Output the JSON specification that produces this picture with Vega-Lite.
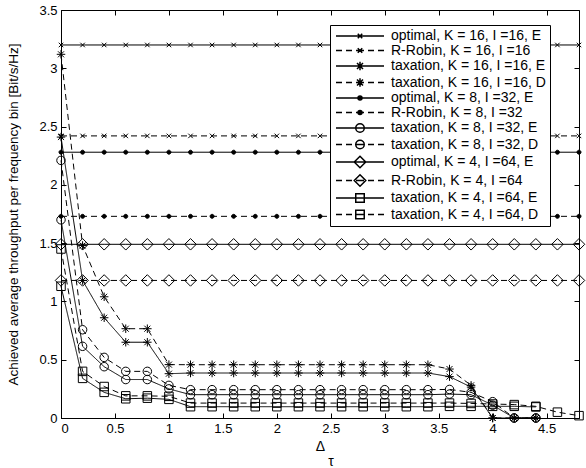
{
  "$schema": "https://vega.github.io/schema/vega-lite/v6.json",
  "width": 518,
  "height": 408,
  "autosize": {"type": "none"},
  "padding": {"left": 61, "top": 10, "right": 7, "bottom": 50},
  "background": "white",
  "config": {
    "font": "Liberation Sans",
    "view": {"stroke": "black", "strokeWidth": 1},
    "axis": {
      "grid": false,
      "domainColor": "black",
      "tickColor": "black",
      "labelColor": "black",
      "titleColor": "black",
      "labelFontSize": 13,
      "labelFont": "Liberation Sans",
      "titleFont": "Liberation Sans",
      "titleFontWeight": "normal",
      "tickSize": -5,
      "tickWidth": 1
    },
    "legend": {
      "labelFont": "Liberation Sans",
      "labelFontSize": 14,
      "labelColor": "black"
    }
  },
  "data": {
    "values": [
      {"x": 0, "optimal, K = 16, I =16, E": 3.2, "R-Robin, K = 16, I =16": 2.42, "taxation, K = 16, I =16, E": 2.41, "taxation, K = 16, I =16, D": 3.12, "optimal, K = 8, I =32, E": 2.28, "R-Robin, K = 8, I =32": 1.73, "taxation, K = 8, I =32, E": 1.7, "taxation, K = 8, I =32, D": 2.21, "optimal, K = 4, I =64, E": 1.49, "R-Robin, K = 4, I =64": 1.18, "taxation, K = 4, I =64, E": 1.13, "taxation, K = 4, I =64, D": 1.45},
      {"x": 0.2, "optimal, K = 16, I =16, E": 3.2, "R-Robin, K = 16, I =16": 2.42, "taxation, K = 16, I =16, E": 1.18, "taxation, K = 16, I =16, D": 1.48, "optimal, K = 8, I =32, E": 2.28, "R-Robin, K = 8, I =32": 1.73, "taxation, K = 8, I =32, E": 0.615, "taxation, K = 8, I =32, D": 0.757, "optimal, K = 4, I =64, E": 1.49, "R-Robin, K = 4, I =64": 1.18, "taxation, K = 4, I =64, E": 0.34, "taxation, K = 4, I =64, D": 0.4},
      {"x": 0.4, "optimal, K = 16, I =16, E": 3.2, "R-Robin, K = 16, I =16": 2.42, "taxation, K = 16, I =16, E": 0.86, "taxation, K = 16, I =16, D": 1.04, "optimal, K = 8, I =32, E": 2.28, "R-Robin, K = 8, I =32": 1.73, "taxation, K = 8, I =32, E": 0.44, "taxation, K = 8, I =32, D": 0.52, "optimal, K = 4, I =64, E": 1.49, "R-Robin, K = 4, I =64": 1.18, "taxation, K = 4, I =64, E": 0.22, "taxation, K = 4, I =64, D": 0.27},
      {"x": 0.6, "optimal, K = 16, I =16, E": 3.2, "R-Robin, K = 16, I =16": 2.42, "taxation, K = 16, I =16, E": 0.65, "taxation, K = 16, I =16, D": 0.766, "optimal, K = 8, I =32, E": 2.28, "R-Robin, K = 8, I =32": 1.73, "taxation, K = 8, I =32, E": 0.33, "taxation, K = 8, I =32, D": 0.4, "optimal, K = 4, I =64, E": 1.49, "R-Robin, K = 4, I =64": 1.18, "taxation, K = 4, I =64, E": 0.165, "taxation, K = 4, I =64, D": 0.19},
      {"x": 0.8, "optimal, K = 16, I =16, E": 3.2, "R-Robin, K = 16, I =16": 2.42, "taxation, K = 16, I =16, E": 0.65, "taxation, K = 16, I =16, D": 0.766, "optimal, K = 8, I =32, E": 2.28, "R-Robin, K = 8, I =32": 1.73, "taxation, K = 8, I =32, E": 0.33, "taxation, K = 8, I =32, D": 0.4, "optimal, K = 4, I =64, E": 1.49, "R-Robin, K = 4, I =64": 1.18, "taxation, K = 4, I =64, E": 0.17, "taxation, K = 4, I =64, D": 0.19},
      {"x": 1.0, "optimal, K = 16, I =16, E": 3.2, "R-Robin, K = 16, I =16": 2.42, "taxation, K = 16, I =16, E": 0.38, "taxation, K = 16, I =16, D": 0.458, "optimal, K = 8, I =32, E": 2.28, "R-Robin, K = 8, I =32": 1.73, "taxation, K = 8, I =32, E": 0.25, "taxation, K = 8, I =32, D": 0.28, "optimal, K = 4, I =64, E": 1.49, "R-Robin, K = 4, I =64": 1.18, "taxation, K = 4, I =64, E": 0.16, "taxation, K = 4, I =64, D": 0.186},
      {"x": 1.2, "optimal, K = 16, I =16, E": 3.2, "R-Robin, K = 16, I =16": 2.42, "taxation, K = 16, I =16, E": 0.386, "taxation, K = 16, I =16, D": 0.457, "optimal, K = 8, I =32, E": 2.28, "R-Robin, K = 8, I =32": 1.73, "taxation, K = 8, I =32, E": 0.2, "taxation, K = 8, I =32, D": 0.243, "optimal, K = 4, I =64, E": 1.49, "R-Robin, K = 4, I =64": 1.18, "taxation, K = 4, I =64, E": 0.097, "taxation, K = 4, I =64, D": 0.128},
      {"x": 1.4, "optimal, K = 16, I =16, E": 3.2, "R-Robin, K = 16, I =16": 2.42, "taxation, K = 16, I =16, E": 0.386, "taxation, K = 16, I =16, D": 0.457, "optimal, K = 8, I =32, E": 2.28, "R-Robin, K = 8, I =32": 1.73, "taxation, K = 8, I =32, E": 0.2, "taxation, K = 8, I =32, D": 0.243, "optimal, K = 4, I =64, E": 1.49, "R-Robin, K = 4, I =64": 1.18, "taxation, K = 4, I =64, E": 0.097, "taxation, K = 4, I =64, D": 0.128},
      {"x": 1.6, "optimal, K = 16, I =16, E": 3.2, "R-Robin, K = 16, I =16": 2.42, "taxation, K = 16, I =16, E": 0.386, "taxation, K = 16, I =16, D": 0.457, "optimal, K = 8, I =32, E": 2.28, "R-Robin, K = 8, I =32": 1.73, "taxation, K = 8, I =32, E": 0.2, "taxation, K = 8, I =32, D": 0.243, "optimal, K = 4, I =64, E": 1.49, "R-Robin, K = 4, I =64": 1.18, "taxation, K = 4, I =64, E": 0.097, "taxation, K = 4, I =64, D": 0.128},
      {"x": 1.8, "optimal, K = 16, I =16, E": 3.2, "R-Robin, K = 16, I =16": 2.42, "taxation, K = 16, I =16, E": 0.386, "taxation, K = 16, I =16, D": 0.457, "optimal, K = 8, I =32, E": 2.28, "R-Robin, K = 8, I =32": 1.73, "taxation, K = 8, I =32, E": 0.2, "taxation, K = 8, I =32, D": 0.243, "optimal, K = 4, I =64, E": 1.49, "R-Robin, K = 4, I =64": 1.18, "taxation, K = 4, I =64, E": 0.097, "taxation, K = 4, I =64, D": 0.128},
      {"x": 2.0, "optimal, K = 16, I =16, E": 3.2, "R-Robin, K = 16, I =16": 2.42, "taxation, K = 16, I =16, E": 0.386, "taxation, K = 16, I =16, D": 0.457, "optimal, K = 8, I =32, E": 2.28, "R-Robin, K = 8, I =32": 1.73, "taxation, K = 8, I =32, E": 0.2, "taxation, K = 8, I =32, D": 0.243, "optimal, K = 4, I =64, E": 1.49, "R-Robin, K = 4, I =64": 1.18, "taxation, K = 4, I =64, E": 0.097, "taxation, K = 4, I =64, D": 0.128},
      {"x": 2.2, "optimal, K = 16, I =16, E": 3.2, "R-Robin, K = 16, I =16": 2.42, "taxation, K = 16, I =16, E": 0.386, "taxation, K = 16, I =16, D": 0.457, "optimal, K = 8, I =32, E": 2.28, "R-Robin, K = 8, I =32": 1.73, "taxation, K = 8, I =32, E": 0.2, "taxation, K = 8, I =32, D": 0.243, "optimal, K = 4, I =64, E": 1.49, "R-Robin, K = 4, I =64": 1.18, "taxation, K = 4, I =64, E": 0.097, "taxation, K = 4, I =64, D": 0.128},
      {"x": 2.4, "optimal, K = 16, I =16, E": 3.2, "R-Robin, K = 16, I =16": 2.42, "taxation, K = 16, I =16, E": 0.386, "taxation, K = 16, I =16, D": 0.457, "optimal, K = 8, I =32, E": 2.28, "R-Robin, K = 8, I =32": 1.73, "taxation, K = 8, I =32, E": 0.2, "taxation, K = 8, I =32, D": 0.243, "optimal, K = 4, I =64, E": 1.49, "R-Robin, K = 4, I =64": 1.18, "taxation, K = 4, I =64, E": 0.097, "taxation, K = 4, I =64, D": 0.128},
      {"x": 2.6, "optimal, K = 16, I =16, E": 3.2, "R-Robin, K = 16, I =16": 2.42, "taxation, K = 16, I =16, E": 0.386, "taxation, K = 16, I =16, D": 0.457, "optimal, K = 8, I =32, E": 2.28, "R-Robin, K = 8, I =32": 1.73, "taxation, K = 8, I =32, E": 0.2, "taxation, K = 8, I =32, D": 0.243, "optimal, K = 4, I =64, E": 1.49, "R-Robin, K = 4, I =64": 1.18, "taxation, K = 4, I =64, E": 0.097, "taxation, K = 4, I =64, D": 0.128},
      {"x": 2.8, "optimal, K = 16, I =16, E": 3.2, "R-Robin, K = 16, I =16": 2.42, "taxation, K = 16, I =16, E": 0.386, "taxation, K = 16, I =16, D": 0.457, "optimal, K = 8, I =32, E": 2.28, "R-Robin, K = 8, I =32": 1.73, "taxation, K = 8, I =32, E": 0.2, "taxation, K = 8, I =32, D": 0.243, "optimal, K = 4, I =64, E": 1.49, "R-Robin, K = 4, I =64": 1.18, "taxation, K = 4, I =64, E": 0.097, "taxation, K = 4, I =64, D": 0.128},
      {"x": 3.0, "optimal, K = 16, I =16, E": 3.2, "R-Robin, K = 16, I =16": 2.42, "taxation, K = 16, I =16, E": 0.386, "taxation, K = 16, I =16, D": 0.457, "optimal, K = 8, I =32, E": 2.28, "R-Robin, K = 8, I =32": 1.73, "taxation, K = 8, I =32, E": 0.2, "taxation, K = 8, I =32, D": 0.243, "optimal, K = 4, I =64, E": 1.49, "R-Robin, K = 4, I =64": 1.18, "taxation, K = 4, I =64, E": 0.097, "taxation, K = 4, I =64, D": 0.128},
      {"x": 3.2, "optimal, K = 16, I =16, E": 3.2, "R-Robin, K = 16, I =16": 2.42, "taxation, K = 16, I =16, E": 0.386, "taxation, K = 16, I =16, D": 0.457, "optimal, K = 8, I =32, E": 2.28, "R-Robin, K = 8, I =32": 1.73, "taxation, K = 8, I =32, E": 0.2, "taxation, K = 8, I =32, D": 0.243, "optimal, K = 4, I =64, E": 1.49, "R-Robin, K = 4, I =64": 1.18, "taxation, K = 4, I =64, E": 0.097, "taxation, K = 4, I =64, D": 0.128},
      {"x": 3.4, "optimal, K = 16, I =16, E": 3.2, "R-Robin, K = 16, I =16": 2.42, "taxation, K = 16, I =16, E": 0.386, "taxation, K = 16, I =16, D": 0.457, "optimal, K = 8, I =32, E": 2.28, "R-Robin, K = 8, I =32": 1.73, "taxation, K = 8, I =32, E": 0.2, "taxation, K = 8, I =32, D": 0.243, "optimal, K = 4, I =64, E": 1.49, "R-Robin, K = 4, I =64": 1.18, "taxation, K = 4, I =64, E": 0.097, "taxation, K = 4, I =64, D": 0.128},
      {"x": 3.6, "optimal, K = 16, I =16, E": 3.2, "R-Robin, K = 16, I =16": 2.42, "taxation, K = 16, I =16, E": 0.355, "taxation, K = 16, I =16, D": 0.42, "optimal, K = 8, I =32, E": 2.28, "R-Robin, K = 8, I =32": 1.73, "taxation, K = 8, I =32, E": 0.205, "taxation, K = 8, I =32, D": 0.245, "optimal, K = 4, I =64, E": 1.49, "R-Robin, K = 4, I =64": 1.18, "taxation, K = 4, I =64, E": 0.1, "taxation, K = 4, I =64, D": 0.128},
      {"x": 3.8, "optimal, K = 16, I =16, E": 3.2, "R-Robin, K = 16, I =16": 2.42, "taxation, K = 16, I =16, E": 0.265, "taxation, K = 16, I =16, D": 0.28, "optimal, K = 8, I =32, E": 2.28, "R-Robin, K = 8, I =32": 1.73, "taxation, K = 8, I =32, E": 0.2, "taxation, K = 8, I =32, D": 0.22, "optimal, K = 4, I =64, E": 1.49, "R-Robin, K = 4, I =64": 1.18, "taxation, K = 4, I =64, E": 0.1, "taxation, K = 4, I =64, D": 0.125},
      {"x": 4.0, "optimal, K = 16, I =16, E": 3.2, "R-Robin, K = 16, I =16": 2.42, "taxation, K = 16, I =16, E": 0, "taxation, K = 16, I =16, D": 0, "optimal, K = 8, I =32, E": 2.28, "R-Robin, K = 8, I =32": 1.73, "taxation, K = 8, I =32, E": 0.11, "taxation, K = 8, I =32, D": 0.14, "optimal, K = 4, I =64, E": 1.49, "R-Robin, K = 4, I =64": 1.18, "taxation, K = 4, I =64, E": 0.1, "taxation, K = 4, I =64, D": 0.12},
      {"x": 4.2, "optimal, K = 16, I =16, E": 3.2, "R-Robin, K = 16, I =16": 2.42, "taxation, K = 16, I =16, E": 0, "taxation, K = 16, I =16, D": 0, "optimal, K = 8, I =32, E": 2.28, "R-Robin, K = 8, I =32": 1.73, "taxation, K = 8, I =32, E": 0, "taxation, K = 8, I =32, D": 0, "optimal, K = 4, I =64, E": 1.49, "R-Robin, K = 4, I =64": 1.18, "taxation, K = 4, I =64, E": 0.1, "taxation, K = 4, I =64, D": 0.115},
      {"x": 4.4, "optimal, K = 16, I =16, E": 3.2, "R-Robin, K = 16, I =16": 2.42, "taxation, K = 16, I =16, E": 0, "taxation, K = 16, I =16, D": 0, "optimal, K = 8, I =32, E": 2.28, "R-Robin, K = 8, I =32": 1.73, "taxation, K = 8, I =32, E": 0, "taxation, K = 8, I =32, D": 0, "optimal, K = 4, I =64, E": 1.49, "R-Robin, K = 4, I =64": 1.18, "taxation, K = 4, I =64, E": 0.095, "taxation, K = 4, I =64, D": 0.1},
      {"x": 4.6, "optimal, K = 16, I =16, E": 3.2, "R-Robin, K = 16, I =16": 2.42, "taxation, K = 16, I =16, E": null, "taxation, K = 16, I =16, D": null, "optimal, K = 8, I =32, E": 2.28, "R-Robin, K = 8, I =32": 1.73, "taxation, K = 8, I =32, E": null, "taxation, K = 8, I =32, D": null, "optimal, K = 4, I =64, E": 1.49, "R-Robin, K = 4, I =64": 1.18, "taxation, K = 4, I =64, E": null, "taxation, K = 4, I =64, D": 0.05},
      {"x": 4.8, "optimal, K = 16, I =16, E": 3.2, "R-Robin, K = 16, I =16": 2.42, "taxation, K = 16, I =16, E": null, "taxation, K = 16, I =16, D": null, "optimal, K = 8, I =32, E": 2.28, "R-Robin, K = 8, I =32": 1.73, "taxation, K = 8, I =32, E": null, "taxation, K = 8, I =32, D": null, "optimal, K = 4, I =64, E": 1.49, "R-Robin, K = 4, I =64": 1.18, "taxation, K = 4, I =64, E": null, "taxation, K = 4, I =64, D": 0.02}
    ]
  },
  "transform": [
    {"fold": ["optimal, K = 16, I =16, E", "R-Robin, K = 16, I =16", "taxation, K = 16, I =16, E", "taxation, K = 16, I =16, D", "optimal, K = 8, I =32, E", "R-Robin, K = 8, I =32", "taxation, K = 8, I =32, E", "taxation, K = 8, I =32, D", "optimal, K = 4, I =64, E", "R-Robin, K = 4, I =64", "taxation, K = 4, I =64, E", "taxation, K = 4, I =64, D"], "as": ["series", "value"]},
    {"filter": "isValid(datum.value)"}
  ],
  "layer": [
    {
      "mark": {"type": "line", "color": "black", "strokeWidth": 1},
      "encoding": {
        "x": {"field": "x", "type": "quantitative", "scale": {"domain": [0, 4.8], "nice": false, "zero": false},
          "axis": {"orient": "bottom", "values": [0, 0.5, 1, 1.5, 2, 2.5, 3, 3.5, 4, 4.5], "format": "~g", "labelPadding": 9, "title": ["Δ", "\u200c\u2003\u2002τ"], "titleFontSize": 14, "titlePadding": 4, "titleLineHeight": 15}},
        "y": {"field": "value", "type": "quantitative", "scale": {"domain": [0, 3.5], "nice": false},
          "axis": {"orient": "left", "values": [0, 0.5, 1, 1.5, 2, 2.5, 3, 3.5], "format": "~g", "labelPadding": 9, "title": "Achieved average throughput per frequency bin [Bit/s/Hz]", "titleFontSize": 13.5, "titlePadding": 18}},
        "detail": {"field": "series"},
        "strokeDash": {"field": "series", "type": "nominal", "legend": null,
          "scale": {"domain": ["optimal, K = 16, I =16, E", "R-Robin, K = 16, I =16", "taxation, K = 16, I =16, E", "taxation, K = 16, I =16, D", "optimal, K = 8, I =32, E", "R-Robin, K = 8, I =32", "taxation, K = 8, I =32, E", "taxation, K = 8, I =32, D", "optimal, K = 4, I =64, E", "R-Robin, K = 4, I =64", "taxation, K = 4, I =64, E", "taxation, K = 4, I =64, D"],
            "range": [[1, 0], [6, 4], [1, 0], [6, 4], [1, 0], [6, 4], [1, 0], [6, 4], [1, 0], [6, 4], [1, 0], [6, 4]]}}
      }
    },
    {
      "mark": {"type": "point", "stroke": "black", "strokeWidth": 1, "opacity": 1, "size": 100},
      "encoding": {
        "x": {"field": "x", "type": "quantitative", "scale": {"domain": [0, 4.8], "nice": false, "zero": false},
          "axis": {"orient": "top", "values": [0, 0.5, 1, 1.5, 2, 2.5, 3, 3.5, 4, 4.5], "labels": false, "title": null, "domain": false}},
        "y": {"field": "value", "type": "quantitative", "scale": {"domain": [0, 3.5], "nice": false},
          "axis": {"orient": "right", "values": [0, 0.5, 1, 1.5, 2, 2.5, 3, 3.5], "labels": false, "title": null, "domain": false}},
        "shape": {"field": "series", "type": "nominal", "legend": null,
          "scale": {"domain": ["optimal, K = 16, I =16, E", "R-Robin, K = 16, I =16", "taxation, K = 16, I =16, E", "taxation, K = 16, I =16, D", "optimal, K = 8, I =32, E", "R-Robin, K = 8, I =32", "taxation, K = 8, I =32, E", "taxation, K = 8, I =32, D", "optimal, K = 4, I =64, E", "R-Robin, K = 4, I =64", "taxation, K = 4, I =64, E", "taxation, K = 4, I =64, D"],
            "range": [
              "M-0.45,-0.45L0.45,0.45M-0.45,0.45L0.45,-0.45",
              "M-0.45,-0.45L0.45,0.45M-0.45,0.45L0.45,-0.45",
              "M-0.6,-0.6L0.6,0.6M-0.6,0.6L0.6,-0.6M0,-0.85V0.85M-0.85,0H0.85",
              "M-0.6,-0.6L0.6,0.6M-0.6,0.6L0.6,-0.6M0,-0.85V0.85M-0.85,0H0.85",
              "M0.4,0A0.4,0.4 0 1,1 -0.4,0A0.4,0.4 0 1,1 0.4,0Z",
              "M0.4,0A0.4,0.4 0 1,1 -0.4,0A0.4,0.4 0 1,1 0.4,0Z",
              "M0.85,0A0.85,0.85 0 1,1 -0.85,0A0.85,0.85 0 1,1 0.85,0Z",
              "M0.85,0A0.85,0.85 0 1,1 -0.85,0A0.85,0.85 0 1,1 0.85,0Z",
              "M0,-1.15L1.15,0L0,1.15L-1.15,0Z",
              "M0,-1.15L1.15,0L0,1.15L-1.15,0Z",
              "M-0.85,-0.85H0.85V0.85H-0.85Z",
              "M-0.85,-0.85H0.85V0.85H-0.85Z"
            ]}},
        "fill": {"field": "series", "type": "nominal", "legend": null,
          "scale": {"domain": ["optimal, K = 16, I =16, E", "R-Robin, K = 16, I =16", "taxation, K = 16, I =16, E", "taxation, K = 16, I =16, D", "optimal, K = 8, I =32, E", "R-Robin, K = 8, I =32", "taxation, K = 8, I =32, E", "taxation, K = 8, I =32, D", "optimal, K = 4, I =64, E", "R-Robin, K = 4, I =64", "taxation, K = 4, I =64, E", "taxation, K = 4, I =64, D"],
            "range": ["transparent", "transparent", "transparent", "transparent", "black", "black", "transparent", "transparent", "transparent", "transparent", "transparent", "transparent"]}}
      }
    },
    {
      "transform": [{"filter": "false"}],
      "mark": {"type": "point", "stroke": "black", "strokeWidth": 1, "opacity": 1, "size": 100},
      "encoding": {
        "shape": {"field": "series", "type": "nominal",
          "legend": {"orient": "none", "legendX": 269, "legendY": 15, "title": null, "strokeColor": "black", "fillColor": "white", "padding": 4, "rowPadding": 0.5, "symbolOffset": 19, "labelOffset": 24, "symbolSize": 100, "labelLimit": 300,
            "encode": {"symbols": {"update": {"stroke": {"value": "black"}, "strokeWidth": {"value": 1}, "opacity": {"value": 1}}}}},
          "scale": {"domain": ["optimal, K = 16, I =16, E", "R-Robin, K = 16, I =16", "taxation, K = 16, I =16, E", "taxation, K = 16, I =16, D", "optimal, K = 8, I =32, E", "R-Robin, K = 8, I =32", "taxation, K = 8, I =32, E", "taxation, K = 8, I =32, D", "optimal, K = 4, I =64, E", "R-Robin, K = 4, I =64", "taxation, K = 4, I =64, E", "taxation, K = 4, I =64, D"],
            "range": [
              "M-4.8,0H4.8M-0.45,-0.45L0.45,0.45M-0.45,0.45L0.45,-0.45",
              "M-4.8,0H-3.6M-2.8,0H-1.6M-0.8,0H0.8M1.6,0H2.8M3.6,0H4.8M-0.45,-0.45L0.45,0.45M-0.45,0.45L0.45,-0.45",
              "M-4.8,0H4.8M-0.6,-0.6L0.6,0.6M-0.6,0.6L0.6,-0.6M0,-0.85V0.85",
              "M-4.8,0H-3.6M-2.8,0H-1.6M-0.8,0H0.8M1.6,0H2.8M3.6,0H4.8M-0.6,-0.6L0.6,0.6M-0.6,0.6L0.6,-0.6M0,-0.85V0.85",
              "M-4.8,0H4.8M0.4,0A0.4,0.4 0 1,1 -0.4,0A0.4,0.4 0 1,1 0.4,0Z",
              "M-4.8,0H-3.6M-2.8,0H-1.6M-0.8,0H0.8M1.6,0H2.8M3.6,0H4.8M0.4,0A0.4,0.4 0 1,1 -0.4,0A0.4,0.4 0 1,1 0.4,0Z",
              "M-4.8,0H4.8M0.85,0A0.85,0.85 0 1,1 -0.85,0A0.85,0.85 0 1,1 0.85,0Z",
              "M-4.8,0H-3.6M-2.8,0H-1.6M-0.8,0H0.8M1.6,0H2.8M3.6,0H4.8M0.85,0A0.85,0.85 0 1,1 -0.85,0A0.85,0.85 0 1,1 0.85,0Z",
              "M-4.8,0H4.8M0,-1.15L1.15,0L0,1.15L-1.15,0Z",
              "M-4.8,0H-3.6M-2.8,0H-1.6M-0.8,0H0.8M1.6,0H2.8M3.6,0H4.8M0,-1.15L1.15,0L0,1.15L-1.15,0Z",
              "M-4.8,0H4.8M-0.85,-0.85H0.85V0.85H-0.85Z",
              "M-4.8,0H-3.6M-2.8,0H-1.6M-0.8,0H0.8M1.6,0H2.8M3.6,0H4.8M-0.85,-0.85H0.85V0.85H-0.85Z"
            ]}},
        "fill": {"field": "series", "type": "nominal",
          "legend": {"orient": "none", "legendX": 269, "legendY": 15, "title": null},
          "scale": {"domain": ["optimal, K = 16, I =16, E", "R-Robin, K = 16, I =16", "taxation, K = 16, I =16, E", "taxation, K = 16, I =16, D", "optimal, K = 8, I =32, E", "R-Robin, K = 8, I =32", "taxation, K = 8, I =32, E", "taxation, K = 8, I =32, D", "optimal, K = 4, I =64, E", "R-Robin, K = 4, I =64", "taxation, K = 4, I =64, E", "taxation, K = 4, I =64, D"],
            "range": ["transparent", "transparent", "transparent", "transparent", "black", "black", "transparent", "transparent", "transparent", "transparent", "transparent", "transparent"]}}
      }
    }
  ],
  "resolve": {
    "scale": {"shape": "independent", "fill": "independent"},
    "axis": {"x": "independent", "y": "independent"}
  }
}
